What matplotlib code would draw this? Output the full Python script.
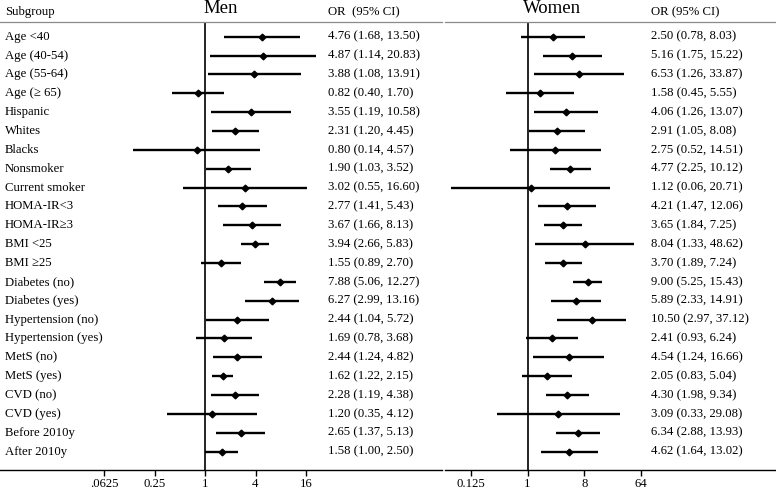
import matplotlib
matplotlib.use("Agg")
import matplotlib.pyplot as plt
import numpy as np

subgroups = ["Age <40", "Age (40-54)", "Age (55-64)", "Age (\u2265 65)", "Hispanic", "Whites",
             "Blacks", "Nonsmoker", "Current smoker", "HOMA-IR<3", "HOMA-IR\u22653", "BMI <25",
             "BMI \u226525", "Diabetes (no)", "Diabetes (yes)", "Hypertension (no)",
             "Hypertension (yes)", "MetS (no)", "MetS (yes)", "CVD (no)", "CVD (yes)",
             "Before 2010y", "After 2010y"]

men_or = [4.76, 4.87, 3.88, 0.82, 3.55, 2.31, 0.80, 1.90, 3.02, 2.77, 3.67, 3.94, 1.55,
          7.88, 6.27, 2.44, 1.69, 2.44, 1.62, 2.28, 1.20, 2.65, 1.58]
men_lo = [1.68, 1.14, 1.08, 0.40, 1.19, 1.20, 0.14, 1.03, 0.55, 1.41, 1.66, 2.66, 0.89,
          5.06, 2.99, 1.04, 0.78, 1.24, 1.22, 1.19, 0.35, 1.37, 1.00]
men_hi = [13.50, 20.83, 13.91, 1.70, 10.58, 4.45, 4.57, 3.52, 16.60, 5.43, 8.13, 5.83, 2.70,
          12.27, 13.16, 5.72, 3.68, 4.82, 2.15, 4.38, 4.12, 5.13, 2.50]

women_or = [2.50, 5.16, 6.53, 1.58, 4.06, 2.91, 2.75, 4.77, 1.12, 4.21, 3.65, 8.04, 3.70,
            9.00, 5.89, 10.50, 2.41, 4.54, 2.05, 4.30, 3.09, 6.34, 4.62]
women_lo = [0.78, 1.75, 1.26, 0.45, 1.26, 1.05, 0.52, 2.25, 0.06, 1.47, 1.84, 1.33, 1.89,
            5.25, 2.33, 2.97, 0.93, 1.24, 0.83, 1.98, 0.33, 2.88, 1.64]
women_hi = [8.03, 15.22, 33.87, 5.55, 13.07, 8.08, 14.51, 10.12, 20.71, 12.06, 7.25, 48.62, 7.24,
            15.43, 14.91, 37.12, 6.24, 16.66, 5.04, 9.34, 29.08, 13.93, 13.02]

men_ticks = [0.0625, 0.25, 1, 4, 16]
men_ticklabels = [".0625", "0.25", "1", "4", "16"]
women_ticks = [0.125, 1, 8, 64]
women_ticklabels = ["0.125", "1", "8", "64"]

W, H = 776, 492
plt.rcParams['font.family'] = ['Liberation Serif', 'DejaVu Serif']
fig = plt.figure(figsize=(W / 100, H / 100), dpi=100)

FS = 9.2
n = len(subgroups)
y_top_px, y_bot_px = 22, 470
row0, drow = 36.7, 18.86
ylim = ((y_bot_px - row0) / drow, (y_top_px - row0) / drow)


def make_axes(x0, x1, one_px, px_per_log2):
    ax = fig.add_axes([x0 / W, 1 - y_bot_px / H, (x1 - x0) / W, (y_bot_px - y_top_px) / H])
    ax.set_xscale('log', base=2)
    left = 2 ** (-(one_px - x0) / px_per_log2)
    right = 2 ** ((x1 - one_px) / px_per_log2)
    ax.set_xlim(left, right)
    ax.set_ylim(*ylim)
    ax.set_facecolor('none')
    for s in ['left', 'right']:
        ax.spines[s].set_visible(False)
    ax.spines['top'].set_color('#8a8a8a')
    ax.spines['top'].set_linewidth(0.9)
    ax.spines['bottom'].set_linewidth(1.0)
    ax.tick_params(axis='y', left=False, labelleft=False)
    ax.tick_params(axis='x', which='minor', bottom=False)
    ax.tick_params(axis='x', which='major', direction='out', length=4, width=1.0,
                   labelsize=FS, pad=2)
    ax.axvline(1, color='black', lw=1.2, zorder=1)
    return ax


def draw(ax, ors, los, his):
    y = np.arange(n)
    ax.hlines(y, los, his, color='black', lw=1.7, zorder=2)
    ax.plot(ors, y, marker='D', ls='none', color='black', ms=3.4, zorder=3)


axm = make_axes(0, 442, 205.0, 25.25)
draw(axm, men_or, men_lo, men_hi)
axm.set_xticks(men_ticks)
axm.set_xticklabels(men_ticklabels)

axw = make_axes(445, 776, 527.5, 18.97)
draw(axw, women_or, women_lo, women_hi)
axw.set_xticks(women_ticks)
axw.set_xticklabels(women_ticklabels)


def ftext(xpx, ypx, s, **kw):
    fig.text(xpx / W, 1 - ypx / H, s, **kw)


for i, lab in enumerate(subgroups):
    ypx = row0 + drow * i
    ftext(5, ypx, lab, fontsize=FS, va='center', ha='left')
    ftext(328, ypx, f"{men_or[i]:.2f} ({men_lo[i]:.2f}, {men_hi[i]:.2f})",
          fontsize=FS, va='center', ha='left')
    ftext(651, ypx, f"{women_or[i]:.2f} ({women_lo[i]:.2f}, {women_hi[i]:.2f})",
          fontsize=FS, va='center', ha='left')

ftext(5, 12, "Subgroup", fontsize=FS, va='center', ha='left')
ftext(328, 12, "OR  (95% CI)", fontsize=FS, va='center', ha='left')
ftext(651, 12, "OR (95% CI)", fontsize=FS, va='center', ha='left')
ftext(221, 13, "Men", fontsize=13.5, va='baseline', ha='center')
ftext(552, 13, "Women", fontsize=13.5, va='baseline', ha='center')

fig.savefig("out.png", dpi=100)
